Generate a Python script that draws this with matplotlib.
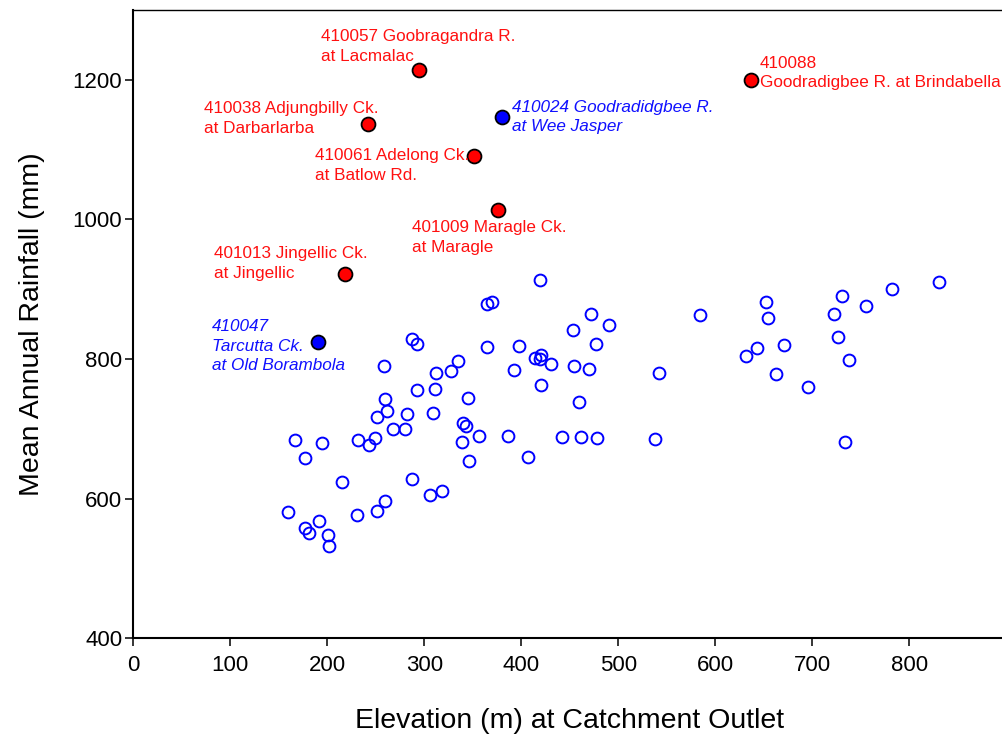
import matplotlib
matplotlib.use('Agg')
import matplotlib.pyplot as plt

plt.rcParams['font.family'] = ['Liberation Sans', 'DejaVu Sans']

# ungauged / other catchments (hollow markers)
elev = [287.0, 292.8, 258.8, 312.4, 292.2, 311.0, 259.2, 261.5, 250.9, 281.9,
        309.3, 268.0, 280.1, 166.4, 194.5, 232.0, 248.9, 242.7, 176.7, 214.8,
        287.3, 305.6, 317.9, 159.2, 230.3, 251.5, 259.8, 191.4, 176.7, 181.1,
        201.0, 201.8, 419.3, 364.9, 369.8, 471.5, 490.4, 453.6, 364.9, 397.3,
        477.0, 334.4, 327.8, 413.8, 420.0, 419.6, 430.3, 392.8, 454.3, 469.5,
        542.3, 420.0, 345.1, 459.5, 340.2, 342.7, 356.4, 386.6, 338.6, 442.3,
        461.2, 477.7, 537.5, 345.8, 407.2, 584.2, 652.6, 654.6, 730.9, 782.5,
        830.3, 755.1, 722.4, 726.5, 632.0, 642.7, 671.1, 737.8, 662.3, 695.3,
        733.4]
rain = [828.5, 822.3, 789.8, 780.5, 756.5, 757.9, 743.1, 725.9, 716.5, 721.6,
        722.6, 699.3, 699.3, 684.0, 679.7, 684.4, 686.4, 677.3, 657.8, 623.5,
        627.8, 604.9, 611.0, 580.5, 576.3, 582.8, 597.1, 568.5, 558.5, 550.9,
        548.1, 532.8, 913.3, 878.5, 882.4, 864.2, 848.5, 842.4, 817.0, 819.5,
        821.7, 797.4, 782.7, 801.7, 806.6, 799.9, 793.1, 785.1, 790.8, 786.6,
        779.8, 763.1, 744.5, 738.3, 708.3, 703.6, 689.3, 689.3, 680.7, 688.7,
        688.3, 686.4, 685.4, 654.4, 660.1, 862.8, 881.4, 859.5, 890.4, 900.4,
        910.4, 876.1, 865.2, 831.3, 805.2, 815.6, 820.3, 799.4, 778.4, 760.2,
        681.1]

# highlighted stations (red)
red_names = ['410057 Goobragandra R.\nat Lacmalac',
             '410038 Adjungbilly Ck.\nat Darbarlarba',
             '410061 Adelong Ck.\nat Batlow Rd.',
             '401009 Maragle Ck.\nat Maragle',
             '401013 Jingellic Ck.\nat Jingellic',
             '410088\nGoodradigbee R. at Brindabella']
red_elev = [294.8, 241.6, 350.9, 376.0, 217.9, 636.8]
red_rain = [1214.7, 1136.1, 1091.3, 1013.0, 921.5, 1200.0]
red_offs = [(-98, 23), (-164, 6), (-159, -10), (-86, -27), (-131, 11), (9, 7)]

# highlighted stations (blue)
blue_names = ['410024 Goodradidgbee R.\nat Wee Jasper',
              '410047\nTarcutta Ck.\nat Old Borambola']
blue_elev = [380.4, 190.4]
blue_rain = [1146.5, 824.2]
blue_offs = [(10, 0), (-106, -4)]

fig = plt.figure(figsize=(10.03, 7.35), dpi=100)
ax = fig.add_axes([0.1329, 0.1313, 0.8704, 0.8551])

ax.plot(elev, rain, 'o', ms=8.5, mfc='none', mec='#0000ff', mew=1.4, ls='none')
ax.plot(red_elev, red_rain, 'o', ms=10, mfc='#ff0000', mec='black', mew=1.3, ls='none')
ax.plot(blue_elev, blue_rain, 'o', ms=10, mfc='#0000ff', mec='black', mew=1.3, ls='none')

for name, x, y, off in zip(red_names, red_elev, red_rain, red_offs):
    ax.annotate(name, (x, y), xytext=off, textcoords='offset pixels',
                ha='left', va='center', color='#ff1010', fontsize=12.3,
                linespacing=1.38)
for name, x, y, off in zip(blue_names, blue_elev, blue_rain, blue_offs):
    ax.annotate(name, (x, y), xytext=off, textcoords='offset pixels',
                ha='left', va='center', color='#1010ff', fontsize=12.3,
                style='italic', linespacing=1.38)

ax.set_xlim(0, 900)
ax.set_ylim(400, 1300)
ax.set_xticks(range(0, 900, 100))
ax.set_yticks(range(400, 1300, 200))
ax.tick_params(direction='out', length=6, width=1.1, labelsize=16)
ax.tick_params(axis='x', pad=6)
ax.tick_params(axis='y', pad=2)

ax.spines['left'].set_linewidth(1.5)
ax.spines['bottom'].set_linewidth(1.5)
ax.spines['top'].set_linewidth(1.0)
ax.spines['right'].set_visible(False)

ax.set_xlabel('Elevation (m) at Catchment Outlet', fontsize=20.5, labelpad=23)
ax.set_ylabel('Mean Annual Rainfall (mm)', fontsize=20.5, labelpad=20)

fig.savefig('out.png', dpi=100)
